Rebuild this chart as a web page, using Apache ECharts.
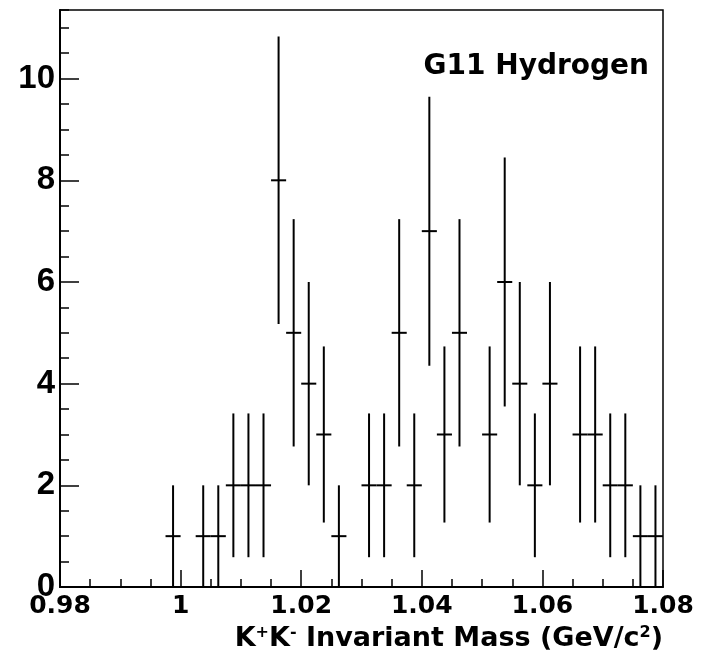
<!DOCTYPE html>
<html><head><meta charset="utf-8">
<script src="https://cdn.jsdelivr.net/npm/echarts@6/dist/echarts.min.js"></script>
<style>html,body{margin:0;padding:0;background:#fff}#c{width:702px;height:661px}</style>
</head><body><div id="c"></div>
<script>
const binCenters = [0.99875, 1.00375, 1.00625, 1.00875, 1.01125, 1.01375, 1.01625, 1.01875, 1.02125, 1.02375,
  1.02625, 1.03125, 1.03375, 1.03625, 1.03875, 1.04125, 1.04375, 1.04625, 1.05125, 1.05375,
  1.05625, 1.05875, 1.06125, 1.06625, 1.06875, 1.07125, 1.07375, 1.07625, 1.07875];
const counts = [1, 1, 1, 2, 2, 2, 8, 5, 4, 3,
  1, 2, 2, 5, 2, 7, 3, 5, 3, 6,
  4, 2, 4, 3, 3, 2, 2, 1, 1];
const errors = [1, 1, 1, 1.414, 1.414, 1.414, 2.828, 2.236, 2, 1.732,
  1, 1.414, 1.414, 2.236, 1.414, 2.646, 1.732, 2.236, 1.732, 2.449,
  2, 1.414, 2, 1.732, 1.732, 1.414, 1.414, 1, 1];
const binWidth = 0.0025;
const xTickLabels = ['0.98', '1', '1.02', '1.04', '1.06', '1.08'];
const yTickLabels = ['0', '2', '4', '6', '8', '10'];

const data = binCenters.map((x, i) => [x, counts[i], errors[i]]);

const chart = echarts.init(document.getElementById('c'), null, {renderer: 'canvas'});
const black = '#000';
chart.setOption({
  animation: false,
  backgroundColor: '#fff',
  grid: {left: 60, right: 39, top: 10, bottom: 74, show: true, borderColor: black, borderWidth: 1.5, backgroundColor: 'transparent'},
  title: [
    {text: 'G11 Hydrogen', right: 53, top: 53, padding: 0,
     textStyle: {fontFamily: 'DejaVu Sans', fontWeight: 'bold', fontSize: 28, color: black}},
    {text: 'K{sup|+}K{sup|-} Invariant Mass (GeV/c{sup|2})', right: 39, top: 623, padding: 0,
     textStyle: {fontFamily: 'DejaVu Sans', fontWeight: 'bold', fontSize: 27, color: black, lineHeight: 32,
       rich: {sup: {fontFamily: 'DejaVu Sans', fontWeight: 'bold', fontSize: 16, color: black, lineHeight: 16, verticalAlign: 'top', padding: [2, 0, 0, 0]}}}}
  ],
  xAxis: {
    type: 'value', min: 0.98, max: 1.08, interval: 0.02,
    axisLine: {show: true, onZero: false, lineStyle: {color: black, width: 2}},
    axisTick: {show: true, inside: true, length: 17, lineStyle: {color: black, width: 1.5}},
    minorTick: {show: true, splitNumber: 4, length: 8, lineStyle: {color: black, width: 1.5}},
    splitLine: {show: false},
    axisLabel: {
      margin: 7, color: black, fontFamily: 'DejaVu Sans', fontWeight: 'bold', fontSize: 25,
      formatter: function (v) {
        const s = String(parseFloat(v.toFixed(2)));
        return xTickLabels.indexOf(s) >= 0 ? s : '';
      }
    }
  },
  yAxis: [
    {
      type: 'value', min: 0, max: 11.35, interval: 2, position: 'left',
      axisLine: {show: true, onZero: false, lineStyle: {color: black, width: 2}},
      axisTick: {show: true, inside: true, length: 19, lineStyle: {color: black, width: 1.5}},
      splitLine: {show: false},
      axisLabel: {
        margin: 5, color: black, fontFamily: 'Liberation Sans', fontWeight: 'bold', fontSize: 33,
        padding: [6, 0, 0, 0],
        showMaxLabel: false,
        formatter: function (v) {
          const s = String(Math.round(v * 100) / 100);
          return yTickLabels.indexOf(s) >= 0 ? s : '';
        }
      }
    },
    {
      type: 'value', min: 0, max: 11.35, interval: 0.5, position: 'left',
      axisLine: {show: false},
      axisTick: {show: true, inside: true, length: 9, lineStyle: {color: black, width: 1.5}},
      splitLine: {show: false},
      axisLabel: {show: false}
    }
  ],
  series: [{
    type: 'custom',
    xAxisIndex: 0, yAxisIndex: 0,
    data: data,
    clip: true,
    renderItem: function (params, api) {
      const x = api.value(0), y = api.value(1), e = api.value(2);
      const lo = api.coord([x, y - e]);
      const hi = api.coord([x, y + e]);
      const l = api.coord([x - binWidth / 2, y]);
      const r = api.coord([x + binWidth / 2, y]);
      return {
        type: 'group',
        children: [
          {type: 'line', shape: {x1: lo[0], y1: lo[1], x2: hi[0], y2: hi[1]}, style: {stroke: black, lineWidth: 2}},
          {type: 'line', shape: {x1: l[0], y1: l[1], x2: r[0], y2: r[1]}, style: {stroke: black, lineWidth: 2}}
        ]
      };
    }
  }]
});
</script>
</body></html>
